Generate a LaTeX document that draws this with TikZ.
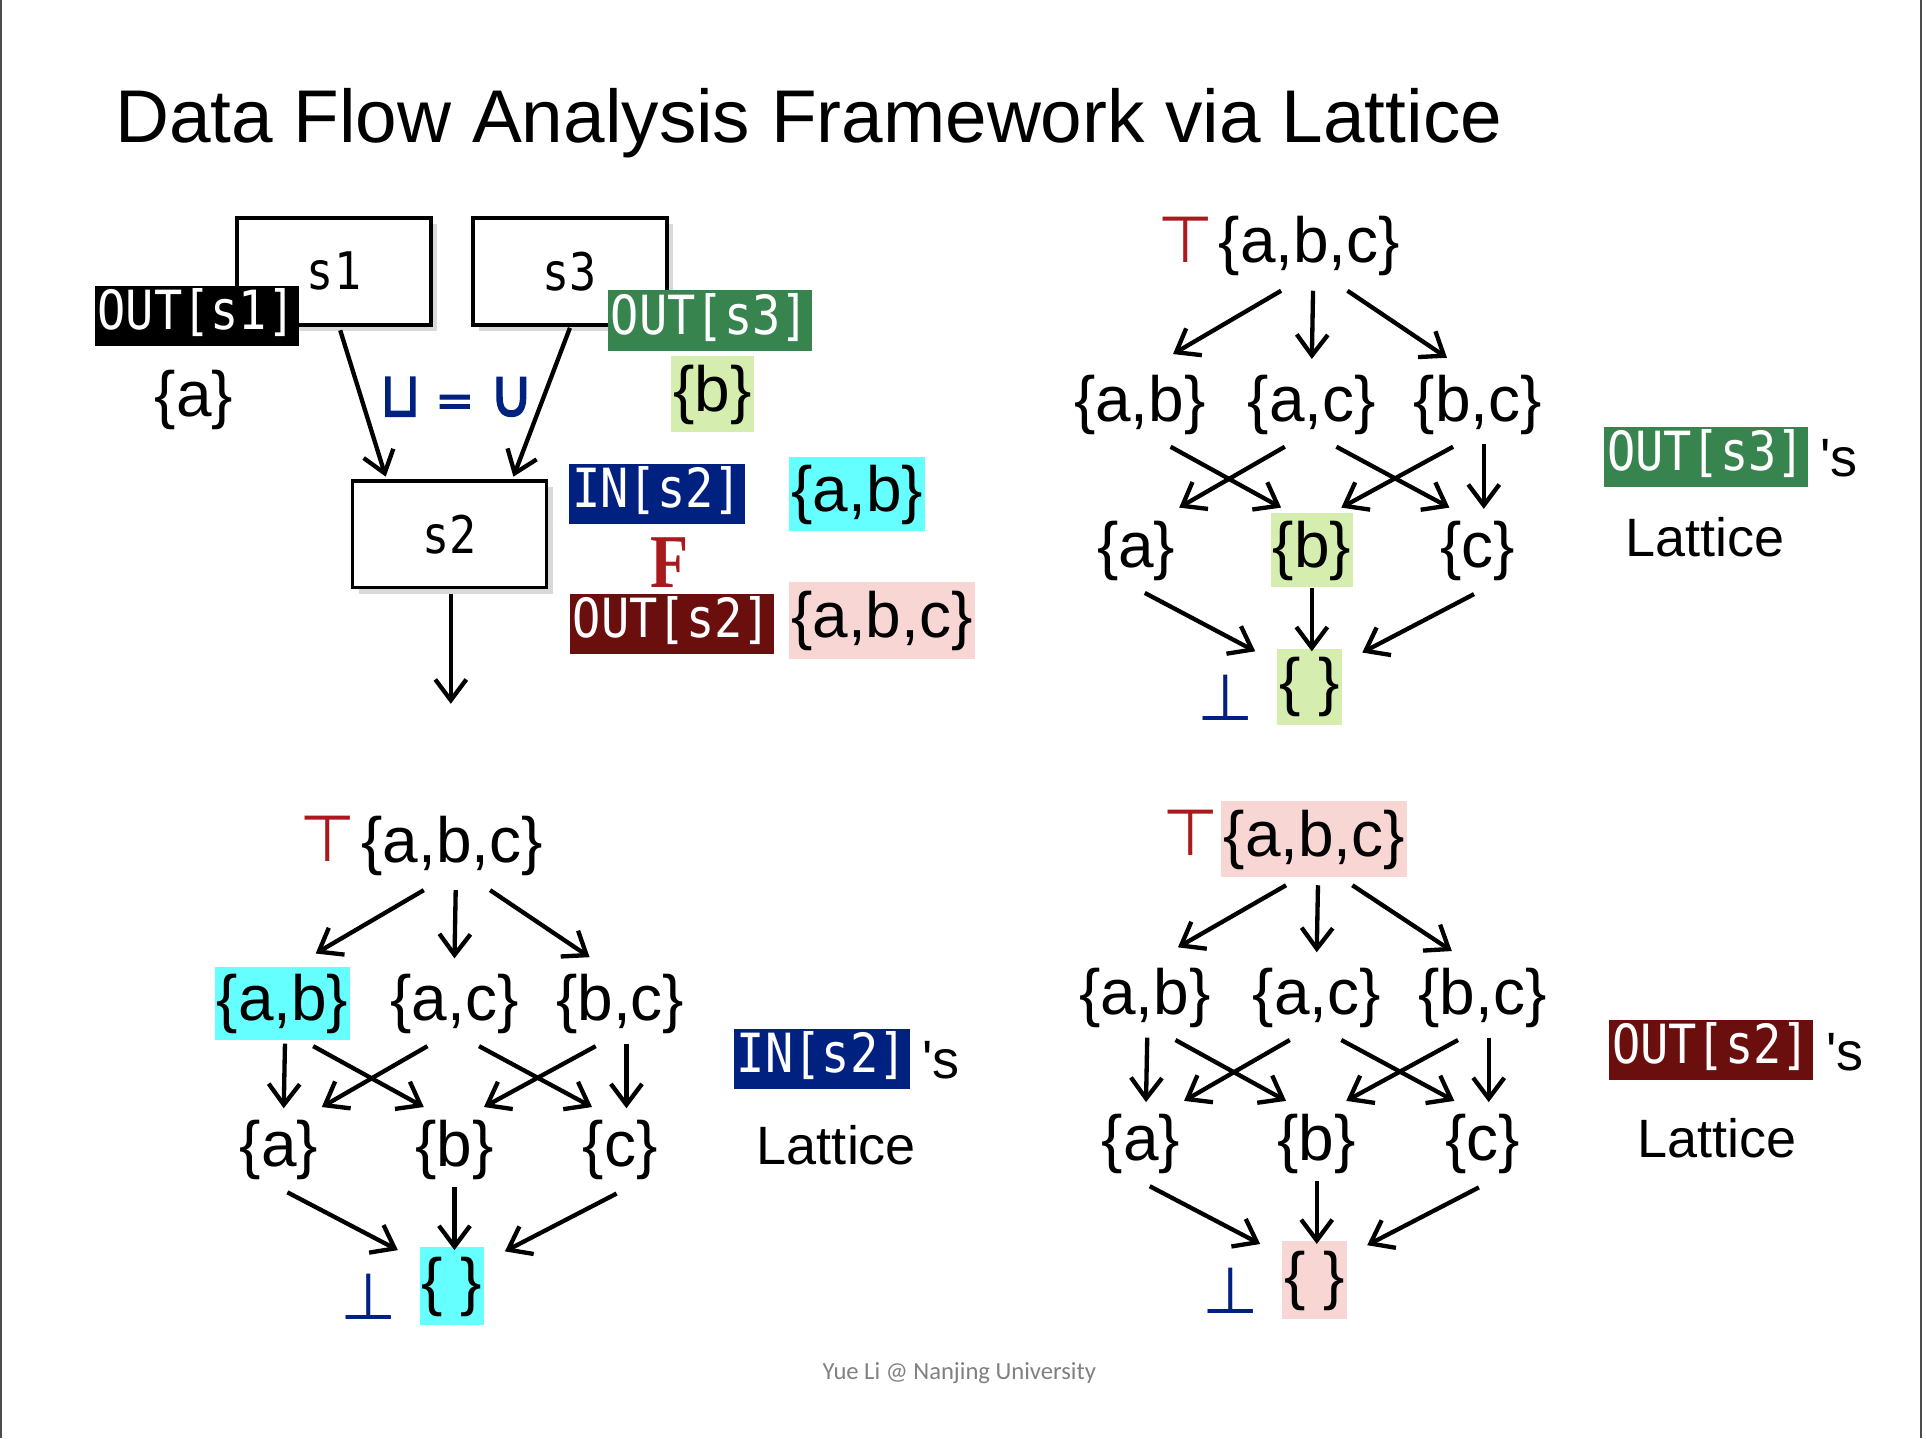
\documentclass[tikz,border=0pt]{standalone}
\usepackage{graphicx}
\usepackage{fontspec}
\setmainfont{Liberation Sans}
\newfontfamily\monofont[FakeStretch=0.87]{DejaVu Sans Mono}
\newfontfamily\symfont{DejaVu Sans}
\newfontfamily\joinfont[FakeBold=2.2]{DejaVu Sans}
\newfontfamily\Ffont[FakeStretch=0.82]{Liberation Serif}
\newfontfamily\footfont{Carlito}
\usetikzlibrary{arrows.meta,shadows}

\definecolor{taggreen}{RGB}{56,132,78}
\definecolor{tagblue}{RGB}{0,33,128}
\definecolor{tagred}{RGB}{107,14,14}
\definecolor{hlgreen}{RGB}{213,237,175}
\definecolor{hlcyan}{RGB}{102,255,255}
\definecolor{hlpink}{RGB}{248,214,212}
\definecolor{topred}{RGB}{170,25,30}
\definecolor{botblue}{RGB}{0,33,128}

\tikzset{
  stmt/.style={draw, line width=0.8pt, fill=white, minimum width=1.58cm, minimum height=0.87cm,
    font=\monofont\fontsize{12}{14}\selectfont,
    drop shadow={shadow xshift=0.05cm, shadow yshift=-0.05cm, opacity=0.3}},
  tag/.style={text=white, inner ysep=0pt, inner xsep=0.7pt, minimum height=0.49cm,
    text height=0.76em, text depth=0.13em, font=\monofont\fontsize{12.5}{14}\selectfont},
  set/.style={inner xsep=0.5pt, inner ysep=0pt, minimum height=0.6cm,
    text height=0.9em, text depth=0.1em, font=\fontsize{14.8}{17}\selectfont},
  arr/.style={line width=1pt, -{Straight Barb[length=4.8pt,width=7.2pt]}},
  topsym/.style={text=topred, font=\symfont\fontsize{15}{17}\selectfont, inner sep=0pt},
  botsym/.style={text=botblue, font=\symfont\fontsize{15}{17}\selectfont, inner sep=0pt},
  word/.style={font=\fontsize{12.5}{15}\selectfont, inner sep=0pt},
}

\begin{document}
\begin{tikzpicture}[x=0.01cm, y=-0.01cm]
            \useasboundingbox (0,0) rectangle (1568,1171);
            \draw[black!70] (1,0) -- (1,1171);
            \draw[black!70] (1564,0) -- (1564,1171);

            \node[anchor=base west, inner sep=0pt, font=\fontsize{17.3}{20}\selectfont] (title) at (93,116) {Data Flow Analysis Framework via Lattice};

            % control flow
            \node[stmt] (s1) at (272,221) {s1};
            \node[stmt] (s3) at (464,221) {s3};
            \node[stmt] (s2) at (366,435) {s2};
            \coordinate (exit) at (367,573);
            \draw[arr] ([shift={(5,3)}]s1.south) -- ([shift={(-52,-2)}]s2.north);
            \draw[arr] ([shift={(0,1)}]s3.south) -- ([shift={(52,-2)}]s2.north);
            \draw[arr] ([shift={(1,4)}]s2.south) -- (exit);
            \node[text=botblue, font=\joinfont\fontsize{10.8}{13}\selectfont, inner sep=0pt] (joinop) at (372,323) {\scalebox{1.1}[1.35]{⊔} = \scalebox{1.3}[1.45]{∪}};

            \node[tag, fill=black] (outs1) at (160,257) {OUT[s1]};
            \node[tag, fill=taggreen] (outs3) at (578,261) {OUT[s3]};
            \node[set] (vala) at (158,325) {\{a\}};
            \node[set, fill=hlgreen, minimum height=0.62cm] (valb) at (580,321) {\{b\}};
            \node[tag, fill=tagblue] (ins2) at (535,402) {IN[s2]};
            \node[set, fill=hlcyan] (valab) at (698,402) {\{a,b\}};
            \node[text=topred, font=\Ffont\bfseries\fontsize{17.6}{20}\selectfont, inner sep=0pt] (F) at (545,458) {F};
            \node[tag, fill=tagred] (outs2) at (547,508) {OUT[s2]};
            \node[set, fill=hlpink, minimum height=0.63cm] (valabc) at (718,505) {\{a,b,c\}};

            % lattice of OUT[s3]
            \begin{scope}[shift={(1066,200)}]
            \node[set] (o3top) at (0,0) {\{a,b,c\}};
            \node[topsym] (o3T) at (-101,-5) {⊤};
            \node[set] (o3ab) at (-138,129) {\{a,b\}};
            \node[set] (o3ac) at (2,129) {\{a,c\}};
            \node[set] (o3bc) at (137,129) {\{b,c\}};
            \node[set] (o3a) at (-141,248) {\{a\}};
            \node[set, fill=hlgreen] (o3b) at (2,248) {\{b\}};
            \node[set] (o3c) at (137,248) {\{c\}};
            \node[set, fill=hlgreen, minimum height=0.62cm] (o3bot) at (0,359) {\{ \}};
            \node[botsym] (o3B) at (-68,368) {⊥};
            \end{scope}
            \draw[arr] ([shift={(-23,6)}]o3top.south) -- ([shift={(27,-10)}]o3ab.north);
            \draw[arr] ([shift={(3,6)}]o3top.south) -- ([shift={(0,-6)}]o3ac.north);
            \draw[arr] ([shift={(31,6)}]o3top.south) -- ([shift={(-25,-7)}]o3bc.north);
            \draw[arr] ([shift={(25,4)}]o3ab.south) -- ([shift={(-25,-4)}]o3b.north);
            \draw[arr] ([shift={(-22,4)}]o3ac.south) -- ([shift={(35,-4)}]o3a.north);
            \draw[arr] ([shift={(20,4)}]o3ac.south) -- ([shift={(-23,-4)}]o3c.north);
            \draw[arr] ([shift={(-20,4)}]o3bc.south) -- ([shift={(24,-4)}]o3b.north);
            \draw[arr] ([shift={(5,2)}]o3bc.south) -- ([shift={(5,-3)}]o3c.north);
            \draw[arr] ([shift={(7,4)}]o3a.south) -- ([shift={(-17,3)}]o3bot.north west);
            \draw[arr] (o3b.south) -- ([shift={(2,3)}]o3bot.north);
            \draw[arr] ([shift={(-3,5)}]o3c.south) -- ([shift={(16,4)}]o3bot.north east);
            \node[tag, fill=taggreen] (o3tag) at (1389,372) {OUT[s3]};
            \node[word] (o3s) at (1497,373) {\textquotesingle s};
            \node[word] (o3word) at (1388,437) {Lattice};

            % lattice of IN[s2]
            \begin{scope}[shift={(368,688)}]
            \node[set] (i2top) at (0,0) {\{a,b,c\}};
            \node[topsym] (i2T) at (-101,-5) {⊤};
            \node[set, fill=hlcyan] (i2ab) at (-138,129) {\{a,b\}};
            \node[set] (i2ac) at (2,129) {\{a,c\}};
            \node[set] (i2bc) at (137,129) {\{b,c\}};
            \node[set] (i2a) at (-141,248) {\{a\}};
            \node[set] (i2b) at (2,248) {\{b\}};
            \node[set] (i2c) at (137,248) {\{c\}};
            \node[set, fill=hlcyan, minimum height=0.63cm] (i2bot) at (0,359) {\{ \}};
            \node[botsym] (i2B) at (-68,368) {⊥};
            \end{scope}
            \draw[arr] ([shift={(-23,6)}]i2top.south) -- ([shift={(27,-10)}]i2ab.north);
            \draw[arr] ([shift={(3,6)}]i2top.south) -- ([shift={(0,-6)}]i2ac.north);
            \draw[arr] ([shift={(31,6)}]i2top.south) -- ([shift={(-25,-7)}]i2bc.north);
            \draw[arr] ([shift={(2,2)}]i2ab.south) -- ([shift={(4,-3)}]i2a.north);
            \draw[arr] ([shift={(25,4)}]i2ab.south) -- ([shift={(-25,-4)}]i2b.north);
            \draw[arr] ([shift={(-22,4)}]i2ac.south) -- ([shift={(35,-4)}]i2a.north);
            \draw[arr] ([shift={(20,4)}]i2ac.south) -- ([shift={(-23,-4)}]i2c.north);
            \draw[arr] ([shift={(-20,4)}]i2bc.south) -- ([shift={(24,-4)}]i2b.north);
            \draw[arr] ([shift={(5,2)}]i2bc.south) -- ([shift={(5,-3)}]i2c.north);
            \draw[arr] ([shift={(7,4)}]i2a.south) -- ([shift={(-17,3)}]i2bot.north west);
            \draw[arr] (i2b.south) -- ([shift={(2,3)}]i2bot.north);
            \draw[arr] ([shift={(-3,5)}]i2c.south) -- ([shift={(16,4)}]i2bot.north east);
            \node[tag, fill=tagblue] (i2tag) at (669,862) {IN[s2]};
            \node[word] (i2s) at (766,863) {\textquotesingle s};
            \node[word] (i2word) at (681,932) {Lattice};

            % lattice of OUT[s2]
            \begin{scope}[shift={(1070,683)}]
            \node[set, fill=hlpink, minimum height=0.62cm] (o2top) at (0,0) {\{a,b,c\}};
            \node[topsym] (o2T) at (-101,-5) {⊤};
            \node[set] (o2ab) at (-138,129) {\{a,b\}};
            \node[set] (o2ac) at (2,129) {\{a,c\}};
            \node[set] (o2bc) at (137,129) {\{b,c\}};
            \node[set] (o2a) at (-141,248) {\{a\}};
            \node[set] (o2b) at (2,248) {\{b\}};
            \node[set] (o2c) at (137,248) {\{c\}};
            \node[set, fill=hlpink, minimum height=0.63cm] (o2bot) at (0,359) {\{ \}};
            \node[botsym] (o2B) at (-68,368) {⊥};
            \end{scope}
            \draw[arr] ([shift={(-23,6)}]o2top.south) -- ([shift={(27,-10)}]o2ab.north);
            \draw[arr] ([shift={(3,6)}]o2top.south) -- ([shift={(0,-6)}]o2ac.north);
            \draw[arr] ([shift={(31,6)}]o2top.south) -- ([shift={(-25,-7)}]o2bc.north);
            \draw[arr] ([shift={(2,2)}]o2ab.south) -- ([shift={(4,-3)}]o2a.north);
            \draw[arr] ([shift={(25,4)}]o2ab.south) -- ([shift={(-25,-4)}]o2b.north);
            \draw[arr] ([shift={(-22,4)}]o2ac.south) -- ([shift={(35,-4)}]o2a.north);
            \draw[arr] ([shift={(20,4)}]o2ac.south) -- ([shift={(-23,-4)}]o2c.north);
            \draw[arr] ([shift={(-20,4)}]o2bc.south) -- ([shift={(24,-4)}]o2b.north);
            \draw[arr] ([shift={(5,2)}]o2bc.south) -- ([shift={(5,-3)}]o2c.north);
            \draw[arr] ([shift={(7,4)}]o2a.south) -- ([shift={(-17,3)}]o2bot.north west);
            \draw[arr] (o2b.south) -- ([shift={(2,3)}]o2bot.north);
            \draw[arr] ([shift={(-3,5)}]o2c.south) -- ([shift={(16,4)}]o2bot.north east);
            \node[tag, fill=tagred] (o2tag) at (1393,855) {OUT[s2]};
            \node[word] (o2s) at (1502,857) {\textquotesingle s};
            \node[word] (o2word) at (1398,927) {Lattice};

            \node[font=\footfont\fontsize{5.7}{7}\selectfont, text=gray, inner sep=0pt] (credit) at (781,1118) {Yue Li @ Nanjing University};
        \end{tikzpicture}
\end{document}
